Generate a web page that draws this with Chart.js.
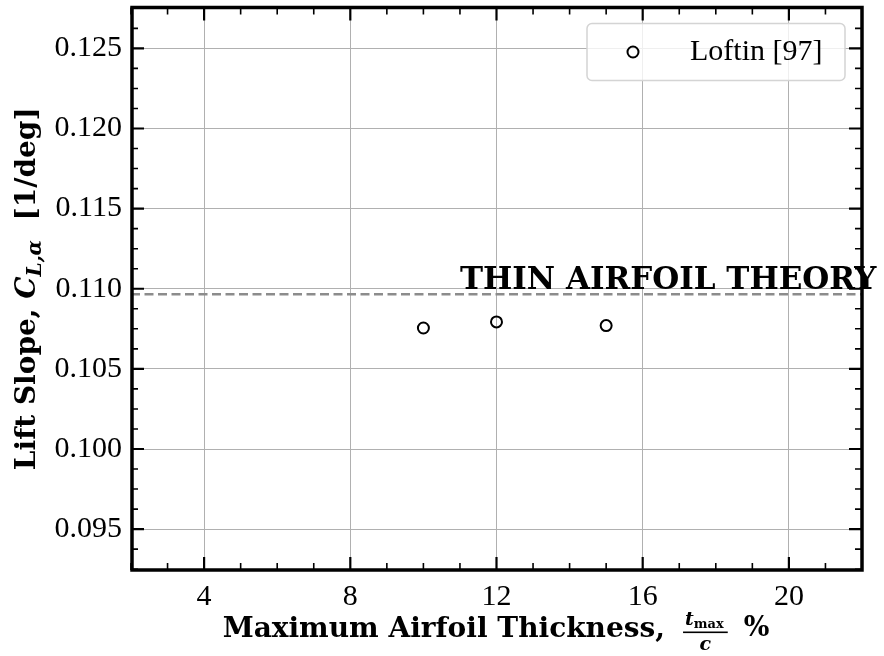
<!DOCTYPE html>
<html>
<head>
<meta charset="utf-8">
<script src="https://cdn.jsdelivr.net/npm/chart.js@4.4.1/dist/chart.umd.min.js"></script>
<style>
  html, body { margin: 0; padding: 0; background: #fff; }
  #wrap { width: 884px; height: 656px; }
</style>
</head>
<body>
<div id="wrap"><canvas id="chart" width="884" height="656"></canvas></div>
<script>
// --- data ---
const thickness = [10, 12, 15];                    // t_max/c, %
const liftSlope = [0.10755, 0.10793, 0.10770];     // Loftin [97]
const theoryX   = [2, 22];
const theoryY   = [0.10966, 0.10966];              // 2*pi per rad, in 1/deg
const xTicks    = [4, 8, 12, 16, 20];
const yTicks    = [0.095, 0.100, 0.105, 0.110, 0.115, 0.120, 0.125];
const xLimits   = [2, 22];
const yLimits   = [0.09245, 0.12755];
const seriesLabel = 'Loftin [97]';
const theoryLabel = 'THIN AIRFOIL THEORY';

const SERIF = "'Liberation Serif', 'Times New Roman', serif";
const BOLD  = "'DejaVu Serif', serif";

// ticks inward on all four sides, spines, legend, axis titles
const framePlugin = {
  id: 'frame',
  afterDraw(chart) {
    const { ctx, chartArea: a, scales: { x, y } } = chart;
    ctx.save();

    // minor + major ticks
    ctx.strokeStyle = '#000';
    ctx.lineCap = 'butt';
    function xTick(v, len, w) {
      const px = x.getPixelForValue(v);
      ctx.lineWidth = w;
      ctx.beginPath();
      ctx.moveTo(px, a.bottom); ctx.lineTo(px, a.bottom - len);
      ctx.moveTo(px, a.top);    ctx.lineTo(px, a.top + len);
      ctx.stroke();
    }
    function yTick(v, len, w) {
      const py = y.getPixelForValue(v);
      ctx.lineWidth = w;
      ctx.beginPath();
      ctx.moveTo(a.left, py);  ctx.lineTo(a.left + len, py);
      ctx.moveTo(a.right, py); ctx.lineTo(a.right - len, py);
      ctx.stroke();
    }
    for (let v = Math.ceil(xLimits[0]); v <= xLimits[1]; v++) {
      if (!xTicks.includes(v)) xTick(v, 7, 1.6);
    }
    xTicks.forEach(v => xTick(v, 13, 2.2));
    for (let k = -2; k < 30; k++) {
      const v = yTicks[0] + k * 0.00125;
      if (v < yLimits[0] || v > yLimits[1]) continue;
      if (k % 4 !== 0) yTick(v, 7, 1.6);
    }
    yTicks.forEach(v => yTick(v, 13, 2.2));

    // spines
    ctx.lineWidth = 3.5;
    ctx.strokeRect(a.left + 1, a.top, a.right - a.left - 1, a.bottom - a.top);

    // legend box
    const lx = a.right - 275, ly = a.top + 16, lw = 258, lh = 57;
    ctx.beginPath();
    ctx.roundRect(lx, ly, lw, lh, 5);
    ctx.fillStyle = 'rgba(255,255,255,0.8)';
    ctx.fill();
    ctx.lineWidth = 1.5;
    ctx.strokeStyle = '#d4d4d4';
    ctx.stroke();
    const ds = chart.data.datasets[0];
    ctx.beginPath();
    ctx.arc(lx + 46, ly + 28.5, ds.pointRadius, 0, Math.PI * 2);
    ctx.lineWidth = ds.borderWidth;
    ctx.strokeStyle = ds.borderColor;
    ctx.stroke();
    ctx.fillStyle = '#000';
    ctx.font = `30px ${SERIF}`;
    ctx.textBaseline = 'middle';
    ctx.textAlign = 'left';
    ctx.fillText(seriesLabel, lx + 103, ly + 29);

    // theory label
    ctx.font = `bold 31px ${BOLD}`;
    ctx.textBaseline = 'alphabetic';
    ctx.fillText(theoryLabel, x.getPixelForValue(11), y.getPixelForValue(theoryY[0]) - 5);

    // x title: Maximum Airfoil Thickness, t_max / c %
    const cx = (a.left + a.right) / 2;
    const base = 637;
    ctx.font = `bold 28px ${BOLD}`;
    const t1 = 'Maximum Airfoil Thickness,';
    const w1 = ctx.measureText(t1).width;
    ctx.font = `bold italic 19px ${BOLD}`;
    const wt = ctx.measureText('t').width;
    ctx.font = `bold 13px ${BOLD}`;
    const wm = ctx.measureText('max').width;
    const fracW = wt + wm + 6;
    ctx.font = `bold 28px ${BOLD}`;
    const wp = ctx.measureText('%').width;
    const g1 = 18, g2 = 16;
    const total = w1 + g1 + fracW + g2 + wp;
    let sx = cx - total / 2;
    ctx.fillText(t1, sx, base);
    sx += w1 + g1;
    ctx.fillRect(sx, base - 5.5, fracW, 1.6);
    ctx.font = `bold italic 19px ${BOLD}`;
    ctx.fillText('t', sx + 2, base - 12);
    ctx.font = `bold 13px ${BOLD}`;
    ctx.fillText('max', sx + 2 + wt, base - 9);
    ctx.font = `bold italic 19px ${BOLD}`;
    const wc = ctx.measureText('c').width;
    ctx.fillText('c', sx + (fracW - wc) / 2, base + 13);
    sx += fracW + g2;
    ctx.font = `bold 27px ${BOLD}`;
    ctx.fillText('%', sx, base - 1);

    // y title: Lift Slope, C_{L,alpha} [1/deg]
    ctx.save();
    ctx.translate(35, (a.top + a.bottom) / 2);
    ctx.rotate(-Math.PI / 2);
    const parts = [
      { t: 'Lift Slope, ', f: `bold 28px ${BOLD}`, dy: 0 },
      { t: 'C', f: `bold italic 28px ${BOLD}`, dy: 0 },
      { t: 'L,\u03B1', f: `bold italic 20px ${BOLD}`, dy: 6 },
      { t: '  [1/deg]', f: `bold 28px ${BOLD}`, dy: 0 }
    ];
    let tw = 0;
    parts.forEach(p => { ctx.font = p.f; p.w = ctx.measureText(p.t).width; tw += p.w; });
    let px = -tw / 2;
    parts.forEach(p => { ctx.font = p.f; ctx.fillText(p.t, px, p.dy); px += p.w; });
    ctx.restore();

    ctx.restore();
  }
};

new Chart(document.getElementById('chart'), {
  type: 'scatter',
  data: {
    datasets: [{
      label: seriesLabel,
      data: thickness.map((t, i) => ({ x: t, y: liftSlope[i] })),
      pointStyle: 'circle',
      pointRadius: 5.5,
      pointHoverRadius: 5.5,
      borderWidth: 2,
      borderColor: '#000',
      backgroundColor: 'rgba(0,0,0,0)',
      order: 1
    }, {
      label: theoryLabel,
      type: 'line',
      data: theoryX.map((t, i) => ({ x: t, y: theoryY[i] })),
      borderColor: '#8c8c8c',
      borderWidth: 2.5,
      borderDash: [9, 4.5],
      pointRadius: 0,
      fill: false,
      order: 2
    }]
  },
  options: {
    responsive: false,
    animation: false,
    events: [],
    layout: { padding: { top: 5, right: 22, left: 0, bottom: 0 } },
    plugins: { legend: { display: false }, tooltip: { enabled: false } },
    scales: {
      x: {
        type: 'linear',
        min: xLimits[0], max: xLimits[1],
        afterBuildTicks: s => { s.ticks = xTicks.map(v => ({ value: v })); },
        afterFit: s => { s.height = 86; s.paddingLeft = 0; s.paddingRight = 0; },
        grid: { color: '#b0b0b0', lineWidth: 1, drawTicks: false },
        border: { display: false },
        ticks: {
          color: '#000', padding: 9, maxRotation: 0, autoSkip: false,
          font: { family: SERIF, size: 30 }
        }
      },
      y: {
        type: 'linear',
        min: yLimits[0], max: yLimits[1],
        afterBuildTicks: s => { s.ticks = yTicks.map(v => ({ value: v })); },
        afterFit: s => { s.width = 131; s.paddingTop = 0; s.paddingBottom = 0; },
        grid: { color: '#b0b0b0', lineWidth: 1, drawTicks: false },
        border: { display: false },
        ticks: {
          color: '#000', padding: 9, autoSkip: false,
          font: { family: SERIF, size: 30 },
          callback: v => v.toFixed(3)
        }
      }
    }
  },
  plugins: [framePlugin]
});
</script>
</body>
</html>
